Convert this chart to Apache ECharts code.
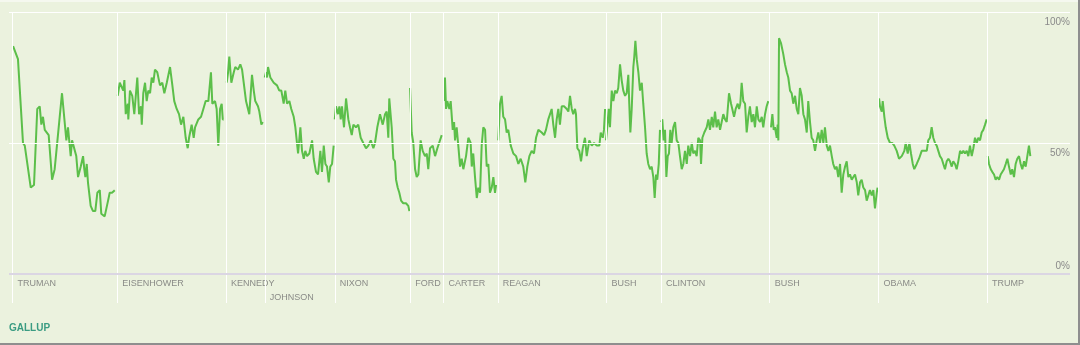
<!DOCTYPE html>
<html><head><meta charset="utf-8">
<script src="https://cdn.jsdelivr.net/npm/echarts@6/dist/echarts.min.js"></script>
<style>
html,body{margin:0;padding:0;background:#ebf2de;}
#wrap{position:relative;width:1080px;height:345px;overflow:hidden;}
#chart{position:absolute;left:0;top:0;width:1080px;height:345px;}
.edge{position:absolute;background:#8e8e8e;}
</style></head><body>
<div id="wrap"><div id="chart"></div>
<div style="position:absolute;left:0;top:0;width:1080px;height:2px;background:#f5f8ef"></div>
<div class="edge" style="left:0;top:343px;width:1080px;height:2px"></div>
<div class="edge" style="left:1078px;top:0;width:2px;height:345px"></div>
</div>
<script>
// Presidents and inauguration (decimal year)
const presidents = ['TRUMAN','EISENHOWER','KENNEDY','JOHNSON','NIXON','FORD','CARTER','REAGAN','BUSH','CLINTON','BUSH','OBAMA','TRUMP'];
const inaugurations = [1945.33,1953.05,1961.05,1963.9,1969.05,1974.6,1977.05,1981.05,1989.05,1993.05,2001.05,2009.05,2017.05];
const yTicks = [0, 50, 100];

// Approval readings [decimal year, % approve]
const truman = [[1945.38,87],[1945.74,82],[1946.11,50],[1946.24,49],[1946.68,33],[1946.92,34],[1947.16,63],[1947.34,64],[1947.46,57],[1947.58,60],[1947.71,55],[1948.0,53],[1948.25,36],[1948.44,40],[1948.98,69],[1949.3,51],[1949.42,56],[1949.62,45],[1949.72,51],[1950.03,45],[1950.16,37],[1950.36,41],[1950.53,45],[1950.62,40],[1950.7,37],[1950.8,42],[1950.89,35],[1951.09,26],[1951.26,24],[1951.43,24],[1951.58,31],[1951.76,32],[1951.87,23],[1952.12,22],[1952.37,28],[1952.49,31],[1952.66,31],[1952.86,32]];
const eisenhower = [[1953.08,68],[1953.23,73],[1953.37,73],[1953.49,70],[1953.57,74],[1953.67,61],[1953.82,65],[1953.86,59],[1953.98,70],[1954.15,68],[1954.3,61],[1954.52,75],[1954.65,61],[1954.79,64],[1954.85,57],[1954.96,69],[1955.09,73],[1955.21,66],[1955.33,70],[1955.46,69],[1955.58,75],[1955.7,73],[1955.82,78],[1955.99,77],[1956.19,72],[1956.36,73],[1956.51,69],[1956.69,73],[1956.93,79],[1957.1,72],[1957.24,66],[1957.42,63],[1957.59,61],[1957.74,57],[1957.91,60],[1958.08,52],[1958.23,48],[1958.33,52],[1958.52,57],[1958.67,52],[1958.77,56],[1959.01,59],[1959.21,60],[1959.38,63],[1959.55,66],[1959.75,66],[1959.94,77],[1960.04,65],[1960.24,66],[1960.36,63],[1960.48,49],[1960.61,63],[1960.73,65],[1960.81,59],[1960.88,59]];
const kennedy = [[1961.1,73],[1961.2,77],[1961.29,83],[1961.44,73],[1961.62,77],[1961.73,79],[1961.93,78],[1962.1,80],[1962.23,78],[1962.35,73],[1962.52,66],[1962.62,66],[1962.76,61],[1962.96,76],[1963.09,70],[1963.2,66],[1963.4,64],[1963.5,62],[1963.65,57],[1963.75,58]];
const johnson = [[1963.9,75],[1963.99,77],[1964.07,75],[1964.14,79],[1964.31,75],[1964.56,73],[1964.8,72],[1964.97,70],[1965.12,70],[1965.29,65],[1965.41,70],[1965.54,65],[1965.71,66],[1965.85,63],[1966.03,60],[1966.15,56],[1966.35,46],[1966.52,56],[1966.64,47],[1966.77,44],[1966.88,47],[1967.01,45],[1967.18,46],[1967.38,51],[1967.5,44],[1967.67,39],[1967.82,38],[1967.99,47],[1968.11,39],[1968.24,49],[1968.36,42],[1968.48,41],[1968.61,35],[1968.72,41],[1968.85,42],[1968.97,49]];
const nixon = [[1969.05,59],[1969.14,64],[1969.29,61],[1969.39,64],[1969.49,59],[1969.58,64],[1969.73,56],[1969.88,67],[1970.05,59],[1970.17,56],[1970.3,53],[1970.42,57],[1970.61,56],[1970.78,57],[1970.96,52],[1971.15,50],[1971.35,48],[1971.52,49],[1971.7,51],[1971.89,48],[1972.01,50],[1972.18,56],[1972.38,61],[1972.58,57],[1972.75,61],[1972.87,62],[1972.99,52],[1973.06,67],[1973.24,56],[1973.36,44],[1973.48,43],[1973.56,36],[1973.68,33],[1973.8,31],[1973.93,28],[1974.09,27],[1974.29,27],[1974.46,26],[1974.54,24]];
const ford = [[1974.59,71],[1974.71,54],[1974.83,50],[1974.96,40],[1975.08,37],[1975.2,38],[1975.37,51],[1975.52,47],[1975.69,45],[1975.82,46],[1975.93,40],[1976.06,48],[1976.26,49],[1976.43,45],[1976.6,48],[1976.92,53]];
const carter = [[1977.09,66],[1977.16,75],[1977.24,63],[1977.33,66],[1977.48,63],[1977.58,66],[1977.73,55],[1977.83,58],[1977.9,51],[1978.02,56],[1978.14,49],[1978.27,41],[1978.39,44],[1978.51,40],[1978.71,45],[1978.88,52],[1979.05,50],[1979.13,41],[1979.24,46],[1979.37,37],[1979.5,29],[1979.61,33],[1979.74,31],[1979.86,49],[1979.98,56],[1980.11,55],[1980.23,41],[1980.35,42],[1980.47,31],[1980.6,33],[1980.72,37],[1980.84,31],[1980.92,34]];
const reagan = [[1981.08,51],[1981.21,65],[1981.33,68],[1981.45,60],[1981.58,59],[1981.7,54],[1981.82,55],[1982.0,49],[1982.19,46],[1982.39,45],[1982.56,42],[1982.73,44],[1982.92,41],[1983.07,35],[1983.22,41],[1983.37,45],[1983.54,47],[1983.71,46],[1983.86,52],[1984.03,55],[1984.28,54],[1984.45,53],[1984.59,55],[1984.76,59],[1984.89,61],[1985.01,63],[1985.13,57],[1985.26,52],[1985.38,59],[1985.5,63],[1985.62,57],[1985.75,64],[1985.92,64],[1986.12,63],[1986.24,62],[1986.36,68],[1986.49,63],[1986.6,61],[1986.73,63],[1986.8,61],[1986.9,48],[1987.04,47],[1987.17,43],[1987.3,48],[1987.46,52],[1987.59,45],[1987.78,51],[1987.96,49],[1988.13,50],[1988.33,49],[1988.52,49],[1988.62,54],[1988.77,52],[1988.86,55],[1988.94,63]];
const bush41 = [[1989.01,51],[1989.1,56],[1989.21,63],[1989.3,56],[1989.43,70],[1989.55,66],[1989.67,70],[1989.8,69],[1989.91,71],[1990.04,80],[1990.16,74],[1990.28,70],[1990.41,68],[1990.53,69],[1990.65,76],[1990.72,65],[1990.8,54],[1990.9,63],[1991.02,79],[1991.09,83],[1991.17,89],[1991.27,82],[1991.39,77],[1991.51,70],[1991.64,73],[1991.75,65],[1991.88,56],[1992.0,46],[1992.12,42],[1992.25,40],[1992.37,41],[1992.49,37],[1992.59,29],[1992.69,38],[1992.78,36],[1992.89,42],[1992.98,55]];
const clinton = [[1993.06,58],[1993.15,59],[1993.25,51],[1993.35,55],[1993.45,37],[1993.55,45],[1993.64,46],[1993.74,55],[1993.84,50],[1993.96,56],[1994.09,58],[1994.21,51],[1994.33,50],[1994.45,45],[1994.58,40],[1994.7,42],[1994.82,47],[1994.95,42],[1995.06,49],[1995.19,45],[1995.32,50],[1995.43,46],[1995.56,47],[1995.68,45],[1995.8,52],[1995.93,51],[1996.0,42],[1996.1,52],[1996.24,54],[1996.42,56],[1996.54,59],[1996.66,55],[1996.79,60],[1996.9,56],[1997.03,62],[1997.15,56],[1997.27,59],[1997.4,55],[1997.52,58],[1997.64,61],[1997.77,59],[1997.89,58],[1998.06,69],[1998.21,65],[1998.3,63],[1998.43,60],[1998.55,63],[1998.7,65],[1998.8,63],[1998.89,65],[1998.99,73],[1999.11,66],[1999.24,65],[1999.36,54],[1999.48,60],[1999.6,64],[1999.73,58],[1999.85,61],[1999.97,56],[2000.1,64],[2000.22,59],[2000.34,58],[2000.47,60],[2000.58,56],[2000.71,61],[2000.83,64],[2000.95,66]];
const bush43 = [[2001.15,56],[2001.25,61],[2001.35,55],[2001.44,56],[2001.57,52],[2001.64,57],[2001.69,51],[2001.74,90],[2001.89,88],[2002.05,84],[2002.18,80],[2002.31,77],[2002.42,75],[2002.55,70],[2002.67,69],[2002.79,65],[2002.92,68],[2003.04,63],[2003.16,61],[2003.28,71],[2003.41,68],[2003.53,61],[2003.65,59],[2003.78,54],[2003.89,66],[2004.02,58],[2004.14,52],[2004.26,51],[2004.39,47],[2004.51,51],[2004.63,54],[2004.76,50],[2004.88,55],[2005.0,50],[2005.12,56],[2005.25,49],[2005.37,47],[2005.49,49],[2005.62,45],[2005.73,42],[2005.86,40],[2005.98,41],[2006.1,37],[2006.23,42],[2006.35,31],[2006.47,38],[2006.6,41],[2006.72,43],[2006.84,37],[2006.96,38],[2007.09,36],[2007.21,37],[2007.33,38],[2007.46,35],[2007.57,30],[2007.7,35],[2007.82,36],[2007.94,33],[2008.07,32],[2008.19,28],[2008.31,30],[2008.43,32],[2008.56,30],[2008.68,32],[2008.8,25],[2008.93,31],[2008.99,33]];
const obama = [[2009.1,67],[2009.17,64],[2009.3,62],[2009.37,66],[2009.49,60],[2009.59,56],[2009.74,52],[2009.91,50],[2010.08,50],[2010.22,49],[2010.4,47],[2010.57,44],[2010.77,45],[2010.96,47],[2011.06,50],[2011.21,46],[2011.33,50],[2011.45,46],[2011.58,42],[2011.69,40],[2011.87,42],[2012.04,44],[2012.24,47],[2012.43,47],[2012.61,47],[2012.72,51],[2012.85,52],[2012.97,56],[2013.09,52],[2013.22,50],[2013.34,49],[2013.46,47],[2013.58,45],[2013.71,44],[2013.83,42],[2013.95,40],[2014.08,43],[2014.2,44],[2014.32,43],[2014.45,41],[2014.56,43],[2014.69,42],[2014.81,40],[2014.93,43],[2015.06,47],[2015.18,46],[2015.3,47],[2015.42,46],[2015.55,47],[2015.67,45],[2015.79,49],[2015.92,45],[2016.04,48],[2016.16,52],[2016.29,50],[2016.4,52],[2016.53,51],[2016.65,54],[2016.77,55],[2016.9,57],[2017.02,59]];
const trump = [[2017.1,45],[2017.19,42],[2017.32,40],[2017.43,39],[2017.56,38],[2017.68,36],[2017.8,37],[2017.93,36],[2018.05,38],[2018.17,38],[2018.29,40],[2018.42,42],[2018.54,44],[2018.66,41],[2018.79,38],[2018.9,40],[2019.03,37],[2019.15,42],[2019.27,44],[2019.4,45],[2019.52,42],[2019.64,40],[2019.77,43],[2019.89,41],[2020.01,45],[2020.13,49],[2020.23,45]];

const terms = [truman, eisenhower, kennedy, johnson, nixon, ford, carter, reagan, bush41, clinton, bush43, obama, trump];

const GREEN = '#5cbf4a';
const FONT = '"Liberation Sans", Arial, sans-serif';
const X_MIN = 1945.08, X_MAX = 2023.15;
const PX_PER_YEAR = (1080 - 9 - 10) / (X_MAX - X_MIN);

// label rows: a name drops to a second row if the previous name would run into it
const labelData = presidents.map((n, i) => {
  let second = false;
  if (i > 0) {
    const prevWidth = presidents[i - 1].length * 6 + 5;
    second = (inaugurations[i] - inaugurations[i - 1]) * PX_PER_YEAR < prevWidth;
  }
  return { name: n, value: [inaugurations[i], second ? -9.05 : -3.8] };
});

const series = [];
series.push({
  type: 'line', data: [], silent: true, z: 1,
  markLine: {
    silent: true, symbol: ['none', 'none'], animation: false,
    data: inaugurations.map(v => ({ xAxis: v, lineStyle: { color: '#ffffff', width: 1, type: 'solid' }, label: { show: false } }))
      .concat(yTicks.map(v => ({
        yAxis: v,
        lineStyle: { color: v === 0 ? '#dbd6e3' : '#ffffff', width: v === 0 ? 2 : 1.2, type: 'solid' },
        label: {
          show: true, formatter: v + '%', position: v === 0 ? 'insideEndTop' : 'insideEndBottom',
          distance: [0, v === 0 ? 3 : 5], color: '#8a8a8a', fontSize: 10, fontFamily: FONT
        }
      })))
  }
});
terms.forEach(d => series.push({
  type: 'line', data: d, showSymbol: false, symbol: 'none', z: 3, animation: false,
  lineStyle: { color: GREEN, width: 2 }, itemStyle: { color: GREEN }
}));
series.push({
  type: 'scatter', data: labelData, symbolSize: 0, silent: true, z: 4, animation: false,
  itemStyle: { color: 'rgba(0,0,0,0)' },
  label: { show: true, position: 'right', distance: 5, formatter: p => p.name, color: '#707070', fontSize: 9, fontFamily: FONT }
});

const chart = echarts.init(document.getElementById('chart'), null, { renderer: 'canvas' });
chart.setOption({
  backgroundColor: '#ebf2de',
  animation: false,
  title: {
    text: 'GALLUP', left: 9, top: 323, padding: 0,
    textStyle: { color: '#3a9c82', fontSize: 10, fontWeight: 'bold', fontFamily: FONT }
  },
  grid: { left: 9, right: 10, top: 12, bottom: 42, containLabel: false },
  xAxis: { type: 'value', min: X_MIN, max: X_MAX, show: false },
  yAxis: { type: 'value', min: -11.07, max: 100, show: false },
  series: series
});
</script>
</body></html>
